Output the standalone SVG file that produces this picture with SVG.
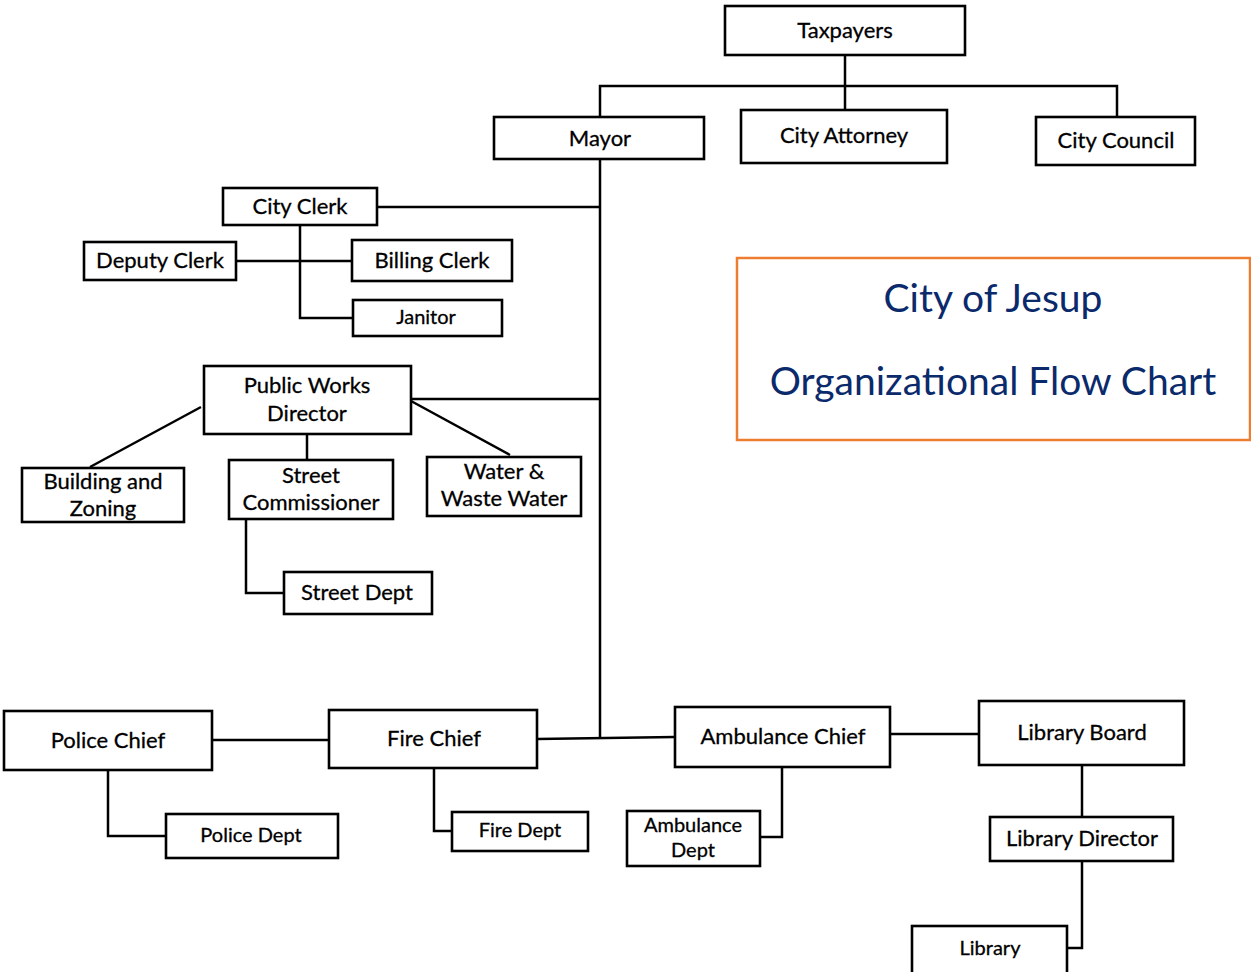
<svg xmlns="http://www.w3.org/2000/svg" width="1251" height="972" viewBox="0 0 1251 972">
<style>
.box{fill:#fff;stroke:#000;stroke-width:2.6}
.t{font-family:Lato,"Open Sans","Liberation Sans",sans-serif;font-size:22px;fill:#000;stroke:#000;stroke-width:0.3;text-anchor:middle;dominant-baseline:central}
.s{font-size:20px}
.c{fill:none;stroke:#000;stroke-width:2.5}
.title{font-family:Lato,"Open Sans","Liberation Sans",sans-serif;font-size:39px;fill:#0B2A6B;text-anchor:middle;dominant-baseline:central}
</style>
<rect width="1251" height="972" fill="#fff"/>
<g id="connectors">
<path class="c" d="M845 55V110M600 117V86H1117V117"/>
<path class="c" d="M600 159V738"/>
<path class="c" d="M377 207H600"/>
<path class="c" d="M236 261H352M300 225V318H353"/>
<path class="c" d="M411 399H600"/>
<path class="c" d="M201 407L90 467M307 434V460M411 401L510 455M246 519V593H284"/>
<path class="c" d="M212 740H329M890 734H979"/>
<path class="c" d="M537 739L675 737" stroke-width="3.5"/>
<path class="c" d="M108 770V836H166M434 768V831H452M782 767V837H760M1082 765V817M1082 861V948H1067"/>
</g>
<g id="taxpayers"><rect class="box" x="725" y="6" width="240" height="49"/><text class="t" x="845" y="29">Taxpayers</text></g>
<g id="mayor"><rect class="box" x="494" y="117" width="210" height="42"/><text class="t" x="600" y="137">Mayor</text></g>
<g id="city-attorney"><rect class="box" x="741" y="110" width="206" height="53"/><text class="t" x="844" y="134">City Attorney</text></g>
<g id="city-council"><rect class="box" x="1036" y="117" width="159" height="48"/><text class="t" x="1116" y="139">City Council</text></g>
<g id="city-clerk"><rect class="box" x="223" y="188" width="154" height="37"/><text class="t" x="300" y="205">City Clerk</text></g>
<g id="deputy-clerk"><rect class="box" x="84" y="242" width="152" height="38"/><text class="t" x="160" y="259">Deputy Clerk</text></g>
<g id="billing-clerk"><rect class="box" x="352" y="240" width="160" height="41"/><text class="t" x="432" y="259">Billing Clerk</text></g>
<g id="janitor"><rect class="box" x="353" y="300" width="149" height="36"/><text class="t s" x="426" y="316">Janitor</text></g>
<g id="public-works"><rect class="box" x="204" y="366" width="207" height="68"/><text class="t" x="307" y="384">Public Works</text><text class="t" x="307" y="412">Director</text></g>
<g id="building-zoning"><rect class="box" x="22" y="468" width="162" height="54"/><text class="t" x="103" y="480">Building and</text><text class="t" x="103" y="507">Zoning</text></g>
<g id="street-commissioner"><rect class="box" x="229" y="460" width="164" height="59"/><text class="t" x="311" y="474">Street</text><text class="t" x="311" y="501">Commissioner</text></g>
<g id="water"><rect class="box" x="427" y="457" width="154" height="59"/><text class="t" x="504" y="470">Water &amp;</text><text class="t" x="504" y="497">Waste Water</text></g>
<g id="street-dept"><rect class="box" x="284" y="572" width="148" height="42"/><text class="t" x="357" y="591">Street Dept</text></g>
<g id="title"><rect x="737" y="258" width="513" height="182" fill="#fff" stroke="#ED7D31" stroke-width="2.5"/><text class="title" x="993" y="297">City of Jesup</text><text class="title" x="993" y="380">Organizational Flow Chart</text></g>
<g id="police-chief"><rect class="box" x="4" y="711" width="208" height="59"/><text class="t" x="108" y="739">Police Chief</text></g>
<g id="fire-chief"><rect class="box" x="329" y="710" width="208" height="58"/><text class="t" x="434" y="737">Fire Chief</text></g>
<g id="ambulance-chief"><rect class="box" x="675" y="707" width="215" height="60"/><text class="t" x="783" y="735">Ambulance Chief</text></g>
<g id="library-board"><rect class="box" x="979" y="701" width="205" height="64"/><text class="t" x="1082" y="731">Library Board</text></g>
<g id="police-dept"><rect class="box" x="166" y="814" width="172" height="44"/><text class="t s" x="251" y="834">Police Dept</text></g>
<g id="fire-dept"><rect class="box" x="452" y="812" width="136" height="39"/><text class="t s" x="520" y="829">Fire Dept</text></g>
<g id="ambulance-dept"><rect class="box" x="627" y="811" width="133" height="55"/><text class="t s" x="693" y="824">Ambulance</text><text class="t s" x="693" y="849">Dept</text></g>
<g id="library-director"><rect class="box" x="990" y="817" width="183" height="44"/><text class="t" x="1082" y="837">Library Director</text></g>
<g id="library"><rect class="box" x="912" y="926" width="155" height="48"/><text class="t s" x="990" y="947">Library</text></g>
</svg>
